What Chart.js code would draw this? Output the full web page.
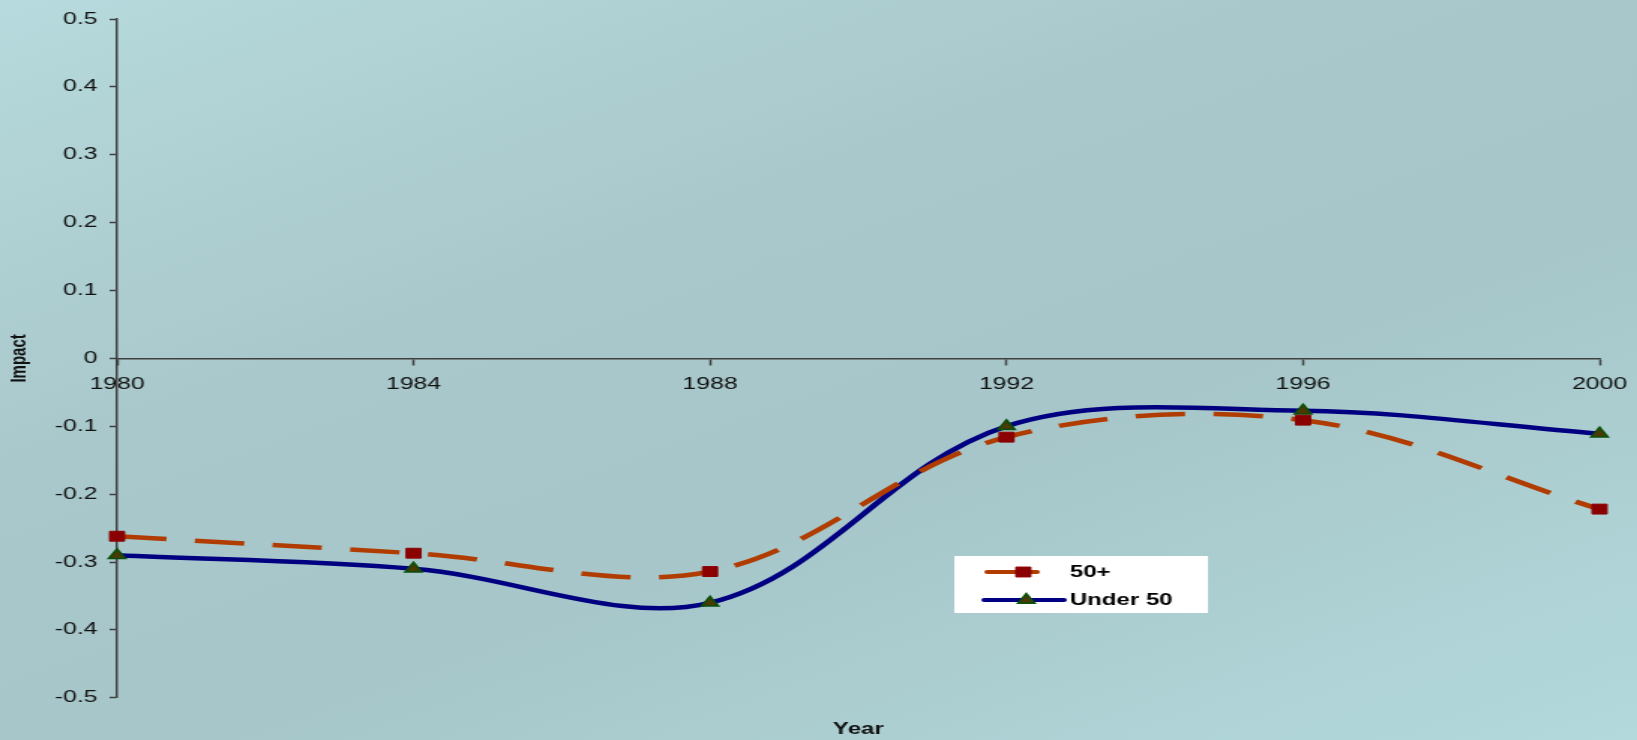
<!DOCTYPE html>
<html>
<head>
<meta charset="utf-8">
<script src="https://cdn.jsdelivr.net/npm/chart.js@4.4.1/dist/chart.umd.min.js"></script>
<style>
  html, body { margin: 0; padding: 0; overflow: hidden; }
  body {
    width: 1637px; height: 740px;
    background: linear-gradient(160deg, #b6dadd 0%, #a9c8cb 35%, #a6c6c9 60%, #b3d9dc 100%);
  }
  /* the sheet is laid out narrow and widened sideways */
  #wrap { width: 1091px; height: 740px; transform: scaleX(1.5005); transform-origin: 0 0; }
</style>
</head>
<body>
<div id="wrap"><canvas id="chart"></canvas></div>
<script>
const years = ['1980', '1984', '1988', '1992', '1996', '2000'];
const over50 = [-0.262, -0.287, -0.314, -0.116, -0.091, -0.222];
const under50 = [-0.29, -0.31, -0.36, -0.10, -0.077, -0.111];
const seriesNames = ['50+', 'Under 50'];

const FONT = 'Liberation Sans, Arial, sans-serif';
const AXIS = '#404040';

// Excel-style floating legend in a white box
const boxLegend = {
    id: 'boxLegend',
    afterDraw(chart) {
        const ctx = chart.ctx;
        const sets = chart.data.datasets;
        const box = { x: 636, y: 556, w: 169, h: 57 };
        ctx.save();
        ctx.fillStyle = '#ffffff';
        ctx.fillRect(box.x, box.y, box.w, box.h);

        const rows = [
            { y: 572, x1: 658, x2: 691, mx: 682 },
            { y: 600, x1: 656, x2: 709, mx: 684 }
        ];
        rows.forEach((r, i) => {
            const ds = sets[i];
            ctx.strokeStyle = ds.borderColor;
            ctx.lineWidth = 4;
            ctx.lineCap = 'round';
            ctx.setLineDash([]);
            ctx.beginPath();
            ctx.moveTo(r.x1, r.y);
            ctx.lineTo(r.x2, r.y);
            ctx.stroke();

            // drawPoint fills and strokes with whatever style is current
            ctx.fillStyle = ds.pointBackgroundColor;
            ctx.strokeStyle = ds.pointBorderColor;
            ctx.lineWidth = ds.pointBorderWidth;
            ctx.lineCap = 'butt';
            Chart.helpers.drawPoint(ctx, {
                pointStyle: ds.pointStyle,
                radius: ds.pointRadius,
                borderWidth: ds.pointBorderWidth,
                rotation: 0
            }, r.mx, r.y);

            ctx.fillStyle = '#000';
            ctx.font = 'bold 16px ' + FONT;
            ctx.textBaseline = 'middle';
            ctx.textAlign = 'left';
            ctx.fillText(ds.label, 713, r.y + 1);
        });
        ctx.restore();
    }
};

new Chart(document.getElementById('chart'), {
    type: 'line',
    data: {
        labels: years,
        datasets: [
            {
                label: seriesNames[0],
                data: over50,
                borderColor: '#b03c00',
                borderWidth: 4.5,
                borderDash: [33, 19],
                tension: 0.35,
                pointStyle: 'rect',
                pointRadius: 7,
                pointBorderWidth: 1,
                pointBackgroundColor: '#8b0000',
                pointBorderColor: '#8b0000',
                clip: false
            },
            {
                label: seriesNames[1],
                data: under50,
                borderColor: '#000080',
                borderWidth: 4.5,
                tension: 0.35,
                pointStyle: 'triangle',
                pointRadius: 6.5,
                pointBorderWidth: 1.5,
                pointBackgroundColor: '#4a3a00',
                pointBorderColor: '#0a4f0a',
                clip: false
            }
        ]
    },
    plugins: [boxLegend],
    options: {
        responsive: true,
        maintainAspectRatio: false,
        animation: false,
        events: [],
        layout: { padding: { top: 19, right: 25, bottom: 0, left: 0 } },
        plugins: {
            legend: { display: false },
            tooltip: { enabled: false },
            title: {
                display: true,
                text: 'Year',
                position: 'bottom',
                fullSize: false,
                color: '#111',
                font: { family: FONT, size: 16, weight: 'bold' },
                padding: { top: 22, bottom: 1 }
            }
        },
        scales: {
            x: {
                position: { y: 0 },
                offset: false,
                // the end labels may hang past the plot edges
                afterFit(scale) { scale.paddingLeft = 0; scale.paddingRight = 0; },
                border: { color: AXIS, width: 1.5 },
                grid: { drawOnChartArea: false, color: AXIS, tickLength: 6, tickWidth: 1.5 },
                ticks: {
                    color: '#111',
                    padding: 10,
                    maxRotation: 0,
                    autoSkip: false,
                    font: { family: FONT, size: 16.5 }
                }
            },
            y: {
                min: -0.5,
                max: 0.5,
                afterFit(scale) { scale.width = 78; },
                border: { color: AXIS, width: 1.5 },
                grid: { drawOnChartArea: false, color: AXIS, tickLength: 5, tickWidth: 1.5 },
                ticks: {
                    stepSize: 0.1,
                    color: '#111',
                    padding: 8,
                    font: { family: FONT, size: 16.5 }
                },
                title: {
                    display: true,
                    text: 'Impact',
                    color: '#111',
                    padding: { top: 4, bottom: 0 },
                    font: { family: FONT, size: 15, weight: 'bold' }
                }
            }
        }
    }
});
</script>
</body>
</html>
